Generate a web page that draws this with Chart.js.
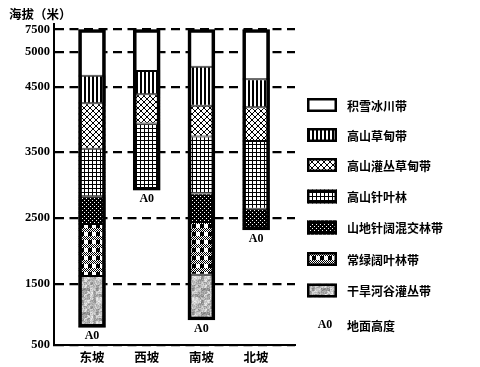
<!DOCTYPE html>
<html>
<head>
<meta charset="utf-8">
<script src="https://cdn.jsdelivr.net/npm/chart.js@4/dist/chart.umd.min.js"></script>
<style>
html, body { margin: 0; padding: 0; background: #fff; }
</style>
</head>
<body>
<canvas id="c" width="480" height="367"></canvas>
<script>
// 坡向
var slopes = ['东坡', '西坡', '南坡', '北坡'];
// 垂直自然带，从上到下
var zones = ['积雪冰川带', '高山草甸带', '高山灌丛草甸带', '高山针叶林', '山地针阔混交林带', '常绿阔叶林带', '干旱河谷灌丛带'];
// 各坡带界海拔(米)，从山顶往下，最后一个是地面高度 A0
var eastBounds = [7500, 4660, 4250, 3550, 2830, 2410, 1620, 790];
var westBounds = [7500, 4730, 4390, 3940, 2920];
var southBounds = [7500, 4790, 4210, 3740, 2870, 2440, 1640, 910];
var northBounds = [7500, 4610, 4190, 3670, 2640, 2320];
// 纵轴刻度
var yTicks = [500, 1500, 2500, 3500, 4500, 5000, 7500];

var allBounds = [eastBounds, westBounds, southBounds, northBounds];

// 纵轴不是等距的: 每个刻度在轴上的位置(像素)
var tickPos = [0, 61, 127, 193, 258, 293, 315.5];

function toUnit(v) {
    var i;
    for (i = 1; i < yTicks.length - 1; i++) {
        if (v <= yTicks[i]) break;
    }
    var a = yTicks[i - 1], b = yTicks[i];
    return tickPos[i - 1] + (v - a) / (b - a) * (tickPos[i] - tickPos[i - 1]);
}
function fromUnit(u) {
    var i;
    for (i = 1; i < tickPos.length - 1; i++) {
        if (u <= tickPos[i]) break;
    }
    var a = tickPos[i - 1], b = tickPos[i];
    return yTicks[i - 1] + (u - a) / (b - a) * (yTicks[i] - yTicks[i - 1]);
}

class PiecewiseScale extends Chart.LinearScale {
    getPixelForValue(value) {
        if (value === null || value === undefined || isNaN(value)) return NaN;
        var a = toUnit(this.min), b = toUnit(this.max);
        return this.getPixelForDecimal((toUnit(value) - a) / (b - a));
    }
    getValueForPixel(pixel) {
        var a = toUnit(this.min), b = toUnit(this.max);
        return fromUnit(a + this.getDecimalForPixel(pixel) * (b - a));
    }
}
PiecewiseScale.id = 'piecewise';
PiecewiseScale.defaults = Chart.LinearScale.defaults;
Chart.register(PiecewiseScale);

var canvas = document.getElementById('c');
var ctx = canvas.getContext('2d');

function makeTile(w, h, draw) {
    var c = document.createElement('canvas');
    c.width = w;
    c.height = h;
    var g = c.getContext('2d');
    g.fillStyle = '#fff';
    g.fillRect(0, 0, w, h);
    g.fillStyle = '#000';
    draw(g, w, h);
    return ctx.createPattern(c, 'repeat');
}

// 填充图案
var stripes = makeTile(4, 4, function (g) {
    g.fillRect(0, 0, 2, 4);
});
var crossHatch = makeTile(6, 6, function (g) {
    for (var i = 0; i < 6; i++) {
        g.fillRect(i, i, 1, 1);
        g.fillRect(i, 5 - i, 1, 1);
    }
});
var gridPat = makeTile(4, 4, function (g) {
    g.fillRect(0, 0, 4, 1);
    g.fillRect(0, 0, 1, 4);
});
var dots = makeTile(4, 4, function (g) {
    g.fillRect(0, 0, 4, 4);
    g.fillStyle = '#fff';
    g.fillRect(0, 0, 1, 1);
    g.fillRect(2, 2, 1, 1);
});
var checker = makeTile(8, 8, function (g) {
    g.fillRect(0, 0, 4, 4);
    for (var y = 4; y < 8; y++) {
        for (var x = 0; x < 8; x++) {
            if ((x + y) % 2 === 0) g.fillRect(x, y, 1, 1);
        }
    }
});
var grayNoise = makeTile(24, 24, function (g, w, h) {
    var img = g.createImageData(w, h);
    var s = 12345;
    function rnd() { s = (s * 16807) % 2147483647; return s / 2147483647; }
    var coarse = [];
    for (var k = 0; k < 64; k++) coarse.push(rnd());
    for (var y = 0; y < h; y++) {
        for (var x = 0; x < w; x++) {
            var cv = coarse[Math.floor(y / 3) * 8 + Math.floor(x / 3)];
            var v = Math.round(120 + cv * 70 + rnd() * 55);
            var p = (y * w + x) * 4;
            img.data[p] = img.data[p + 1] = img.data[p + 2] = v;
            img.data[p + 3] = 255;
        }
    }
    g.putImageData(img, 0, 0);
});

var zoneFills = ['#fff', stripes, crossHatch, gridPat, dots, checker, grayNoise];

var datasets = [];

// 外框
datasets.push({
    label: 'outline',
    data: allBounds.map(function (b, j) {
        return { x: j, y: [b[b.length - 1], b[0]] };
    }),
    backgroundColor: 'rgba(0,0,0,0)',
    borderColor: '#000',
    borderWidth: 3,
    borderSkipped: false,
    order: -1
});

zones.forEach(function (name, i) {
    var pts = [];
    allBounds.forEach(function (b, j) {
        if (i + 1 < b.length) pts.push({ x: j, y: [b[i + 1], b[i]] });
    });
    datasets.push({
        label: name,
        data: pts,
        backgroundColor: zoneFills[i],
        borderColor: '#000',
        borderWidth: { top: 1, bottom: 1, left: 0, right: 0 },
        borderSkipped: false,
        inflateAmount: 0
    });
});

var numFont = { family: '"Liberation Serif", "Times New Roman", serif', size: 12.5, weight: 'bold' };
var cjkFont = '"Noto Sans CJK SC", sans-serif';

var extraText = {
    id: 'extraText',
    afterDraw: function (chart) {
        var c = chart.ctx;
        var xs = chart.scales.x, ys = chart.scales.y;
        c.save();
        c.fillStyle = '#000';
        c.textBaseline = 'middle';

        // 纵轴标题
        c.textAlign = 'left';
        c.font = 'bold 12.5px ' + cjkFont;
        c.fillText('海拔（米）', 9, 14);

        // A0 标注
        c.textAlign = 'center';
        c.font = 'bold 12px "Liberation Serif", serif';
        allBounds.forEach(function (b, j) {
            c.fillText('A0', xs.getPixelForValue(j), ys.getPixelForValue(b[b.length - 1]) + 9);
        });

        // 图例
        var rowY = [105, 135, 165, 196.5, 227.5, 259, 290.5];
        zones.forEach(function (name, i) {
            var y = rowY[i];
            c.fillStyle = zoneFills[i];
            c.fillRect(307, y - 7, 30, 14);
            c.strokeStyle = '#000';
            c.lineWidth = 2.5;
            c.strokeRect(308.25, y - 5.75, 27.5, 11.5);
            c.fillStyle = '#000';
            c.textAlign = 'left';
            c.font = 'bold 12px ' + cjkFont;
            c.fillText(name, 347, y + 1);
        });
        c.textAlign = 'center';
        c.font = 'bold 12px "Liberation Serif", serif';
        c.fillText('A0', 325, 325);
        c.textAlign = 'left';
        c.font = 'bold 12px ' + cjkFont;
        c.fillText('地面高度', 347, 326);
        c.restore();
    }
};

new Chart(canvas, {
    type: 'bar',
    data: { datasets: datasets },
    options: {
        responsive: false,
        animation: false,
        events: [],
        grouped: false,
        barThickness: 27,
        layout: { padding: { top: 24, right: 185, left: 0, bottom: 0 } },
        plugins: {
            legend: { display: false },
            tooltip: { enabled: false }
        },
        scales: {
            x: {
                type: 'linear',
                min: -0.695,
                max: 3.711,
                bounds: 'data',
                offset: false,
                afterBuildTicks: function (s) {
                    s.ticks = slopes.map(function (n, j) { return { value: j }; });
                },
                afterFit: function (s) { s.height = 22; },
                grid: { display: false, drawTicks: false, offset: false },
                border: { display: true, color: '#000', width: 2 },
                ticks: {
                    padding: 5,
                    color: '#000',
                    font: { family: cjkFont, size: 12.5, weight: 'bold' },
                    callback: function (v) { return slopes[v]; }
                }
            },
            y: {
                type: 'piecewise',
                min: 500,
                max: 8110,
                bounds: 'data',
                afterBuildTicks: function (s) {
                    s.ticks = yTicks.map(function (v) { return { value: v }; });
                },
                afterFit: function (s) { s.width = 54; },
                grid: { color: '#000', lineWidth: 2.3, drawTicks: false },
                border: { display: true, color: '#000', width: 2, dash: [9, 5.5] },
                ticks: {
                    padding: 4,
                    color: '#000',
                    font: numFont,
                    callback: function (v) { return String(v); }
                }
            }
        }
    },
    plugins: [extraText]
});
</script>
</body>
</html>
